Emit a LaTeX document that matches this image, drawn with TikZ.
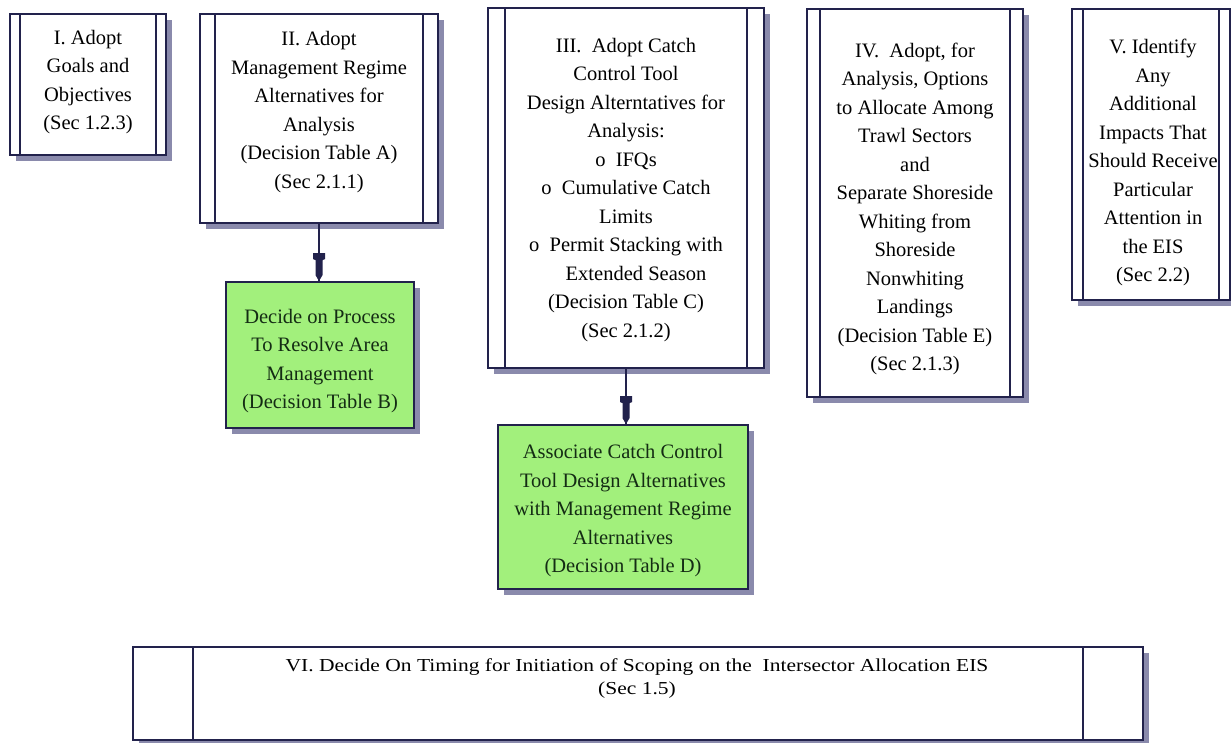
\documentclass[tikz,border=0pt]{standalone}
\usepackage{fontspec}
\usepackage{graphicx}
\setmainfont{Liberation Serif}
\usetikzlibrary{shadows}

\definecolor{edge}{HTML}{22224C}
\definecolor{shade}{HTML}{8A8AAC}
\definecolor{leaf}{HTML}{A2F07C}
\definecolor{leaftext}{HTML}{142C14}

\tikzset{
  x=1pt, y=-1pt,
  basebox/.style={draw=edge, line width=1.8pt, inner sep=0pt,
    drop shadow={shadow xshift=6pt, shadow yshift=-6pt, fill=shade, opacity=1}},
  % white step box with two inner rails, #1 = rail inset
  stagebox/.style={basebox, fill=white,
    path picture={
      \draw[edge, line width=1.2pt]
        ([xshift=#1]path picture bounding box.north west) --
        ([xshift=#1]path picture bounding box.south west)
        ([xshift=-#1]path picture bounding box.north east) --
        ([xshift=-#1]path picture bounding box.south east);
    }},
  greenbox/.style={basebox, fill=leaf},
  label/.style={align=center, inner sep=0pt,
    font=\fontsize{20.5}{28.5}\selectfont},
  conn/.style={draw=edge, line width=1.5pt},
  % nib-shaped arrow head, tip at the current origin
  nib/.pic={
    \fill[edge] (0,0) -- (-3.5,-6) -- (-3.5,-21) -- (-6,-22) -- (-6,-28)
      -- (6,-28) -- (6,-22) -- (3.5,-21) -- (3.5,-6) -- cycle;
  },
}

\begin{document}
\begin{tikzpicture}
\useasboundingbox[fill=white] (0,0) rectangle (1231,743);
\begin{scope}
\clip (0,0) rectangle (1231,743);

% step boxes
\node[stagebox=10pt, minimum width=156pt, minimum height=141pt] (s1) at (88,84.5) {};
\node[stagebox=15pt, minimum width=238pt, minimum height=209pt] (s2) at (319,118.5) {};
\node[stagebox=17pt, minimum width=276pt, minimum height=360pt] (s3) at (626,188) {};
\node[stagebox=13pt, minimum width=216pt, minimum height=388pt] (s4) at (915,203) {};
\node[stagebox=11pt, minimum width=158pt, minimum height=291pt] (s5) at (1151,154.5) {};
\node[stagebox=60pt, minimum width=1010pt, minimum height=93pt] (s6) at (638,693.5) {};

% decision boxes
\node[greenbox, minimum width=188pt, minimum height=146pt] (dB) at (320,355) {};
\node[greenbox, minimum width=250pt, minimum height=164pt] (dD) at (623,507) {};

% texts
\node[label] (t1) at (88,82) {I. Adopt\\Goals and\\Objectives\\(Sec 1.2.3)};
\node[label] (t2) at (319,112) {II. Adopt\\Management Regime\\Alternatives for\\Analysis\\(Decision Table A)\\(Sec 2.1.1)};
\node[label] (t3) at (626,190) {III.\ \ Adopt Catch\\Control Tool\\Design Alterntatives for\\Analysis:\\o\ \ IFQs\\o\ \ Cumulative Catch\\Limits\\o\ \ Permit Stacking with\\\hspace*{20pt}Extended Season\\(Decision Table C)\\(Sec 2.1.2)};
\node[label] (t4) at (915,209) {IV.\ \ Adopt, for\\Analysis, Options\\to Allocate Among\\Trawl Sectors\\and\\Separate Shoreside\\Whiting from\\Shoreside\\Nonwhiting\\Landings\\(Decision Table E)\\(Sec 2.1.3)};
\node[label] (t5) at (1153,162.5) {V. Identify\\Any\\Additional\\Impacts That\\Should Receive\\Particular\\Attention in\\the EIS\\(Sec 2.2)};
\node[label, text=leaftext] (tB) at (320,361) {Decide on Process\\To Resolve Area\\Management\\(Decision Table B)};
\node[label, text=leaftext] (tD) at (623,511) {Associate Catch Control\\Tool Design Alternatives\\with Management Regime\\Alternatives\\(Decision Table D)};
\node[inner sep=0pt] (t6) at (637,678) {\scalebox{1}[0.85]{\fontsize{21.5}{27}\selectfont
  \begin{tabular}{@{}c@{}}VI. Decide On Timing for Initiation of Scoping on the\ \ Intersector Allocation EIS\\(Sec 1.5)\end{tabular}}};

% connectors
\coordinate (hB) at (s2.south |- dB.north);
\coordinate (hD) at (s3.south |- dD.north);
\draw[conn] (s2.south) -- (hB);
\draw[conn] (s3.south) -- (hD);
\pic at (hB) {nib};
\pic at (hD) {nib};
\end{scope}
\end{tikzpicture}
\end{document}
